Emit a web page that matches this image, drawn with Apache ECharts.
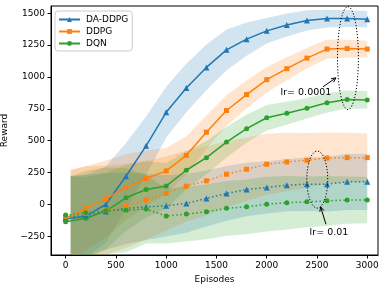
<!DOCTYPE html>
<html><head><meta charset="utf-8">
<script src="https://cdn.jsdelivr.net/npm/echarts@6/dist/echarts.min.js"></script>
<style>html,body{margin:0;padding:0;background:#fff}#c{width:389px;height:290px}</style>
</head><body><div id="c"></div>
<script>
// ---- data ----
const episodes = [0,200,400,600,800,1000,1200,1400,1600,1800,2000,2200,2400,2600,2800,3000];
const bandEpisodes = [50,200,400,600,800,1000,1200,1400,1600,1800,2000,2200,2400,2600,2800,3000];
const xTicks = [0,500,1000,1500,2000,2500,3000];
const yTicks = [-250,0,250,500,750,1000,1250,1500];

// lr = 0.0001 (solid)
const daddpg = [-115,-92,0,221,460,723,914,1075,1213,1297,1362,1408,1444,1458,1458,1453];
const ddpg   = [-109,-31,44,133,203,263,385,567,737,862,979,1065,1148,1219,1223,1219];
const dqn    = [-136,-109,-52,52,117,145,268,367,489,594,680,716,755,797,823,820];
// lr = 0.01 (dotted)
const daddpgLow = [-100,-85,-55,-30,-20,-11,8,47,86,117,133,151,159,159,177,177];
const ddpgLow   = [-95,-70,-45,-13,34,86,143,185,237,276,315,333,346,364,367,367];
const dqnLow    = [-84,-65,-50,-45,-37,-91,-76,-58,-31,-19,2,13,20,28,34,34];

// band half widths (std)
const daddpgStd    = [330,320,300,260,230,200,190,180,160,130,100,90,80,70,65,65];
const ddpgStd      = [360,330,300,260,220,180,150,130,120,110,100,90,80,75,70,65];
const dqnStd       = [350,320,300,260,220,180,150,130,120,110,100,90,80,75,70,70];
const daddpgLowStd = [320,320,300,280,260,240,230,220,215,210,205,205,210,215,220,220];
const ddpgLowStd   = [360,370,350,330,310,290,280,270,260,250,240,230,215,200,195,190];
const dqnLowStd    = [300,330,340,330,270,215,215,215,215,215,215,210,200,195,185,182];

const C = {blue:'#1f77b4', orange:'#ff7f0e', green:'#2ca02c'};
const FONT = 'DejaVu Sans';

function interpAt(xs, ys, x){
  for(let i=0;i<xs.length-1;i++){
    if(x>=xs[i] && x<=xs[i+1]){const t=(x-xs[i])/(xs[i+1]-xs[i]);return ys[i]+t*(ys[i+1]-ys[i]);}
  }
  return ys[ys.length-1];
}
function bandSeries(id, mean, std, color){
  const rows = bandEpisodes.map((x,i)=>{const m = interpAt(episodes, mean, x); return [x, m-std[i], m+std[i]];});
  return {
    type:'custom', name:id, data:rows, silent:true, z:1, clip:true,
    encode:{x:0, y:[1,2]},
    renderItem:function(params, api){
      if(params.dataIndexInside !== 0) return null;
      const n = params.dataInsideLength;
      const top = [], bot = [];
      for(let i=0;i<n;i++){
        const x = api.value(0,i);
        top.push(api.coord([x, api.value(2,i)]));
        bot.push(api.coord([x, api.value(1,i)]));
      }
      const pts = top.concat(bot.reverse());
      return {type:'polygon', shape:{points:pts}, style:{fill:color, opacity:0.2}};
    }
  };
}
function lineSeries(name, vals, color, symbol, size, dotted){
  return {type:'line', name:name, data:episodes.map((x,i)=>[x,vals[i]]),
    symbol:symbol, symbolSize:size, showSymbol:true,
    itemStyle:{color:color},
    lineStyle:{color:color, width:1.5, type: dotted ? [1.5,2.5] : 'solid'}, z:3};
}

const series = [
  bandSeries('b1', daddpg, daddpgStd, C.blue),
  bandSeries('b2', ddpg, ddpgStd, C.orange),
  bandSeries('b3', dqn, dqnStd, C.green),
  bandSeries('b4', daddpgLow, daddpgLowStd, C.blue),
  bandSeries('b5', ddpgLow, ddpgLowStd, C.orange),
  bandSeries('b6', dqnLow, dqnLowStd, C.green),
  lineSeries('DA-DDPG', daddpg, C.blue, 'triangle', 6, false),
  lineSeries('DDPG', ddpg, C.orange, 'rect', 5, false),
  lineSeries('DQN', dqn, C.green, 'circle', 5, false),
  lineSeries('DA-DDPG lr=0.01', daddpgLow, C.blue, 'triangle', 6, true),
  lineSeries('DDPG lr=0.01', ddpgLow, C.orange, 'rect', 5, true),
  lineSeries('DQN lr=0.01', dqnLow, C.green, 'circle', 5, true)
];

const fmt = v => String(v).replace('-', '\u2212');
const chart = echarts.init(document.getElementById('c'), null, {renderer:'canvas'});
chart.setOption({
  animation:false,
  backgroundColor:'#fff',
  textStyle:{fontFamily:FONT},
  grid:{left:51, right:11, top:6, bottom:35, outerBoundsMode:'none', containLabel:false,
    show:true, borderColor:'#000', borderWidth:1, backgroundColor:'transparent'},
  legend:{
    data:['DA-DDPG','DDPG','DQN'], orient:'vertical', left:55, top:11,
    itemWidth:21, itemHeight:6, itemGap:3,
    padding:[4,4,3,3],
    borderColor:'#cccccc', borderWidth:1, borderRadius:3, backgroundColor:'rgba(255,255,255,0.8)',
    textStyle:{fontFamily:FONT, fontSize:9, color:'#000', padding:[0,0,0,1]}
  },
  xAxis:{type:'value', min:-146, max:3107,
    name:'Episodes', nameLocation:'middle', nameGap:18,
    nameTextStyle:{fontFamily:FONT, fontSize:9, color:'#000'},
    axisLine:{show:true, onZero:false, lineStyle:{color:'#000', width:1}},
    axisTick:{show:true, length:3.5, inside:false, customValues:xTicks, lineStyle:{color:'#000'}},
    axisLabel:{customValues:xTicks, fontFamily:FONT, fontSize:9, color:'#000', margin:6, formatter:fmt},
    splitLine:{show:false}
  },
  yAxis:{type:'value', min:-397, max:1557,
    name:'Reward', nameLocation:'middle', nameGap:36,
    nameTextStyle:{fontFamily:FONT, fontSize:9, color:'#000', verticalAlign:'middle'},
    axisLine:{show:true, onZero:false, lineStyle:{color:'#000', width:1}},
    axisTick:{show:true, length:3.5, inside:false, customValues:yTicks, lineStyle:{color:'#000'}},
    axisLabel:{customValues:yTicks, fontFamily:FONT, fontSize:9, color:'#000', margin:6, formatter:fmt},
    splitLine:{show:false}
  },
  series: series
});

// ---- annotations positioned in data coordinates ----
function px(x,y){return chart.convertToPixel({gridIndex:0},[x,y]);}
function ellipse(cx,cy,rx,ry){
  const c = px(cx,cy), e = px(cx+rx, cy+ry);
  return {type:'ellipse', shape:{cx:c[0], cy:c[1], rx:Math.abs(e[0]-c[0]), ry:Math.abs(c[1]-e[1])},
    style:{fill:null, stroke:'#000', lineWidth:1, lineDash:[1.2,1.8]}, z:10};
}
function arrow(x0,y0,x1,y1){
  const a = px(x0,y0), b = px(x1,y1);
  const ang = Math.atan2(b[1]-a[1], b[0]-a[0]);
  const L = 5, w = 0.45;
  const h1 = [b[0]-L*Math.cos(ang-w), b[1]-L*Math.sin(ang-w)];
  const h2 = [b[0]-L*Math.cos(ang+w), b[1]-L*Math.sin(ang+w)];
  return [
    {type:'line', shape:{x1:a[0],y1:a[1],x2:b[0],y2:b[1]}, style:{stroke:'#000', lineWidth:1}, z:10},
    {type:'polyline', shape:{points:[h1,b,h2]}, style:{stroke:'#000', lineWidth:1, fill:null}, z:10}
  ];
}
function label(x,y,text){
  const p = px(x,y);
  return {type:'text', x:p[0], y:p[1], style:{text:text, font:'9.5px "DejaVu Sans"', fill:'#000', align:'center', verticalAlign:'middle'}, z:10};
}
chart.setOption({graphic:[].concat(
  [ellipse(2808,1148,104,404), ellipse(2503,195,104,224)],
  arrow(2560,923,2689,993),
  arrow(2589,-155,2536,-19),
  [label(2390,881,'lr= 0.0001'), label(2619,-217,'lr= 0.01')]
)});
</script></body></html>
